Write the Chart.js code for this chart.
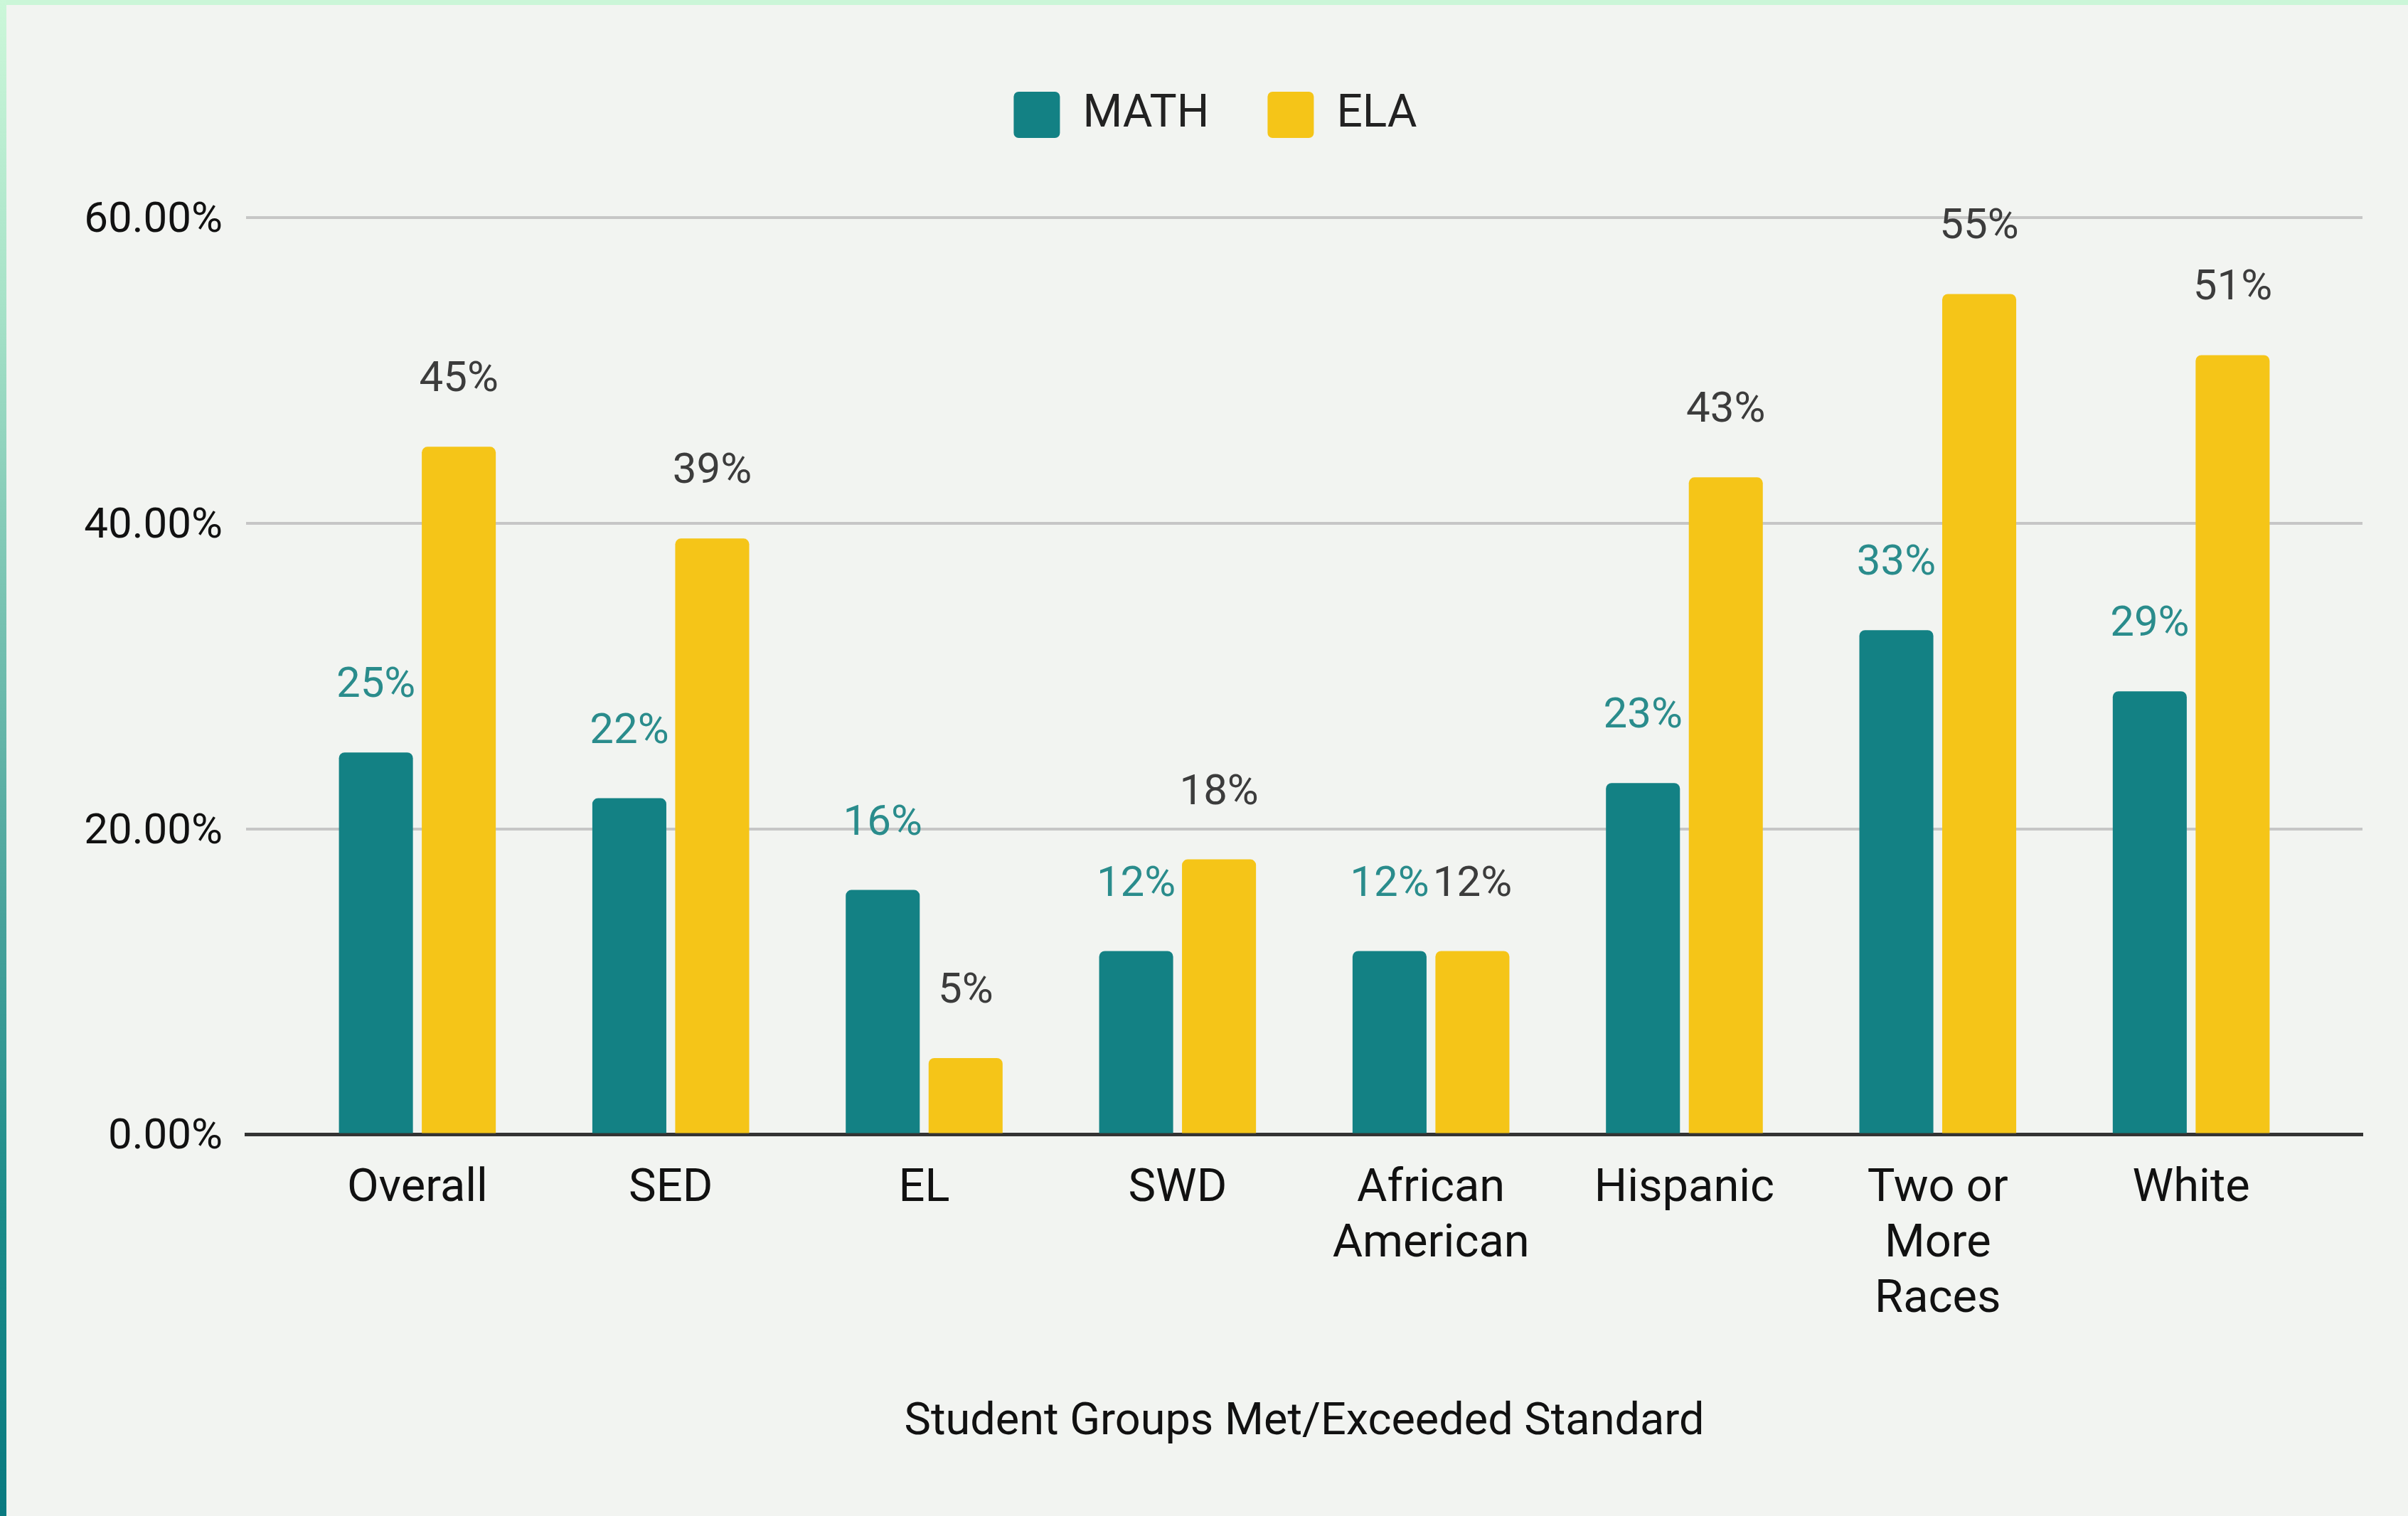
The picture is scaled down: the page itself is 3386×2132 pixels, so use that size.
<!DOCTYPE html>
<html>
<head>
<meta charset="utf-8">
<title>Student Groups Met/Exceeded Standard</title>
<script src="https://cdn.jsdelivr.net/npm/chart.js@4.4.1/dist/chart.umd.min.js"></script>
<style>
    html, body { margin: 0; padding: 0; background: #f2f4f1; overflow: hidden; }
    #wrap { position: relative; width: 3386px; height: 2132px; }
    #topStrip { position: absolute; left: 0; top: 0; width: 3386px; height: 7px; background: #cbf6d8; }
    #leftStrip { position: absolute; left: 0; top: 0; width: 9px; height: 2132px;
        background: linear-gradient(to bottom, #ccf7d9 0%, #a7e2c8 20%, #4aa39c 60%, #1b8b89 80%, #097a80 100%); }
    canvas { position: absolute; left: 0; top: 0; }
</style>
</head>
<body>
<div id="wrap">
    <canvas id="scoresChart" width="3386" height="2132"></canvas>
    <div id="topStrip"></div>
    <div id="leftStrip"></div>
</div>
<script>
// Data
const groups = [
    ['Overall'], ['SED'], ['EL'], ['SWD'],
    ['African', 'American'], ['Hispanic'], ['Two or', 'More', 'Races'], ['White']
];
const mathScores = [25, 22, 16, 12, 12, 23, 33, 29];
const elaScores = [45, 39, 5, 18, 12, 43, 55, 51];
const yTicks = [0, 20, 40, 60];

// Colors
const tealColor = '#138184';
const goldColor = '#f5c518';
const labelColors = ['#2a8c8c', '#3c3c3c'];

// Groups sit at x = 0..7 on a linear axis so the grid can run past the outer bars
const toPoints = values => values.map((v, i) => ({ x: i, y: v }));

// Push the plot area down below the legend
const legendSpacing = {
    id: 'legendSpacing',
    beforeInit(chart) {
        const originalFit = chart.legend.fit;
        chart.legend.fit = function fit() {
            originalFit.bind(chart.legend)();
            this.height += 102;
        };
    }
};

// Percent labels above each bar
const barValueLabels = {
    id: 'barValueLabels',
    afterDatasetsDraw(chart) {
        const ctx = chart.ctx;
        ctx.save();
        ctx.font = '60px Roboto';
        ctx.textAlign = 'center';
        ctx.textBaseline = 'middle';
        chart.data.datasets.forEach((ds, i) => {
            chart.getDatasetMeta(i).data.forEach((bar, j) => {
                ctx.fillStyle = labelColors[i];
                ctx.fillText(ds.data[j].y + '%', bar.x, bar.y - 93);
            });
        });
        ctx.restore();
    }
};

function drawChart() {
    const ctx = document.getElementById('scoresChart').getContext('2d');
    new Chart(ctx, {
        type: 'bar',
        data: {
            datasets: [
                {
                    label: 'MATH',
                    data: toPoints(mathScores),
                    backgroundColor: tealColor,
                    borderRadius: 8,
                    categoryPercentage: 0.654,
                    barPercentage: 0.893
                },
                {
                    label: 'ELA',
                    data: toPoints(elaScores),
                    backgroundColor: goldColor,
                    borderRadius: 8,
                    categoryPercentage: 0.654,
                    barPercentage: 0.893
                }
            ]
        },
        options: {
            responsive: false,
            animation: false,
            devicePixelRatio: 1,
            layout: {
                padding: { left: 96, right: 64, top: 47, bottom: 93 }
            },
            plugins: {
                legend: {
                    position: 'top',
                    labels: {
                        color: '#222',
                        font: { family: 'Roboto', size: 64 },
                        boxWidth: 65,
                        boxHeight: 65,
                        useBorderRadius: true,
                        borderRadius: 7,
                        padding: 82
                    }
                },
                tooltip: { enabled: false }
            },
            scales: {
                x: {
                    type: 'linear',
                    offset: false,
                    min: -0.676,
                    max: 7.676,
                    grid: { display: false, drawTicks: false },
                    border: { display: true, color: '#333', width: 5 },
                    afterBuildTicks: scale => {
                        scale.ticks = groups.map((g, i) => ({ value: i }));
                    },
                    ticks: {
                        autoSkip: false,
                        maxRotation: 0,
                        padding: 38,
                        color: '#111',
                        font: { family: 'Roboto', size: 65, lineHeight: 1.2 },
                        callback: value => groups[value]
                    },
                    title: {
                        display: true,
                        text: 'Student Groups Met/Exceeded Standard',
                        color: '#111',
                        font: { family: 'Roboto', size: 63, lineHeight: 1.2 },
                        padding: { top: 58, bottom: 0 }
                    }
                },
                y: {
                    min: 0,
                    max: 60,
                    afterFit: scale => { scale.width = 250; },
                    afterBuildTicks: scale => {
                        scale.ticks = yTicks.map(v => ({ value: v }));
                    },
                    grid: { color: '#c6c6c6', lineWidth: 4, drawTicks: false },
                    border: { display: false },
                    ticks: {
                        padding: 33,
                        labelOffset: 5,
                        color: '#111',
                        font: { family: 'Roboto', size: 60 },
                        callback: value => value.toFixed(2) + '%'
                    }
                }
            }
        },
        plugins: [legendSpacing, barValueLabels]
    });
}

document.fonts.load('60px Roboto').then(drawChart, drawChart);
</script>
</body>
</html>
